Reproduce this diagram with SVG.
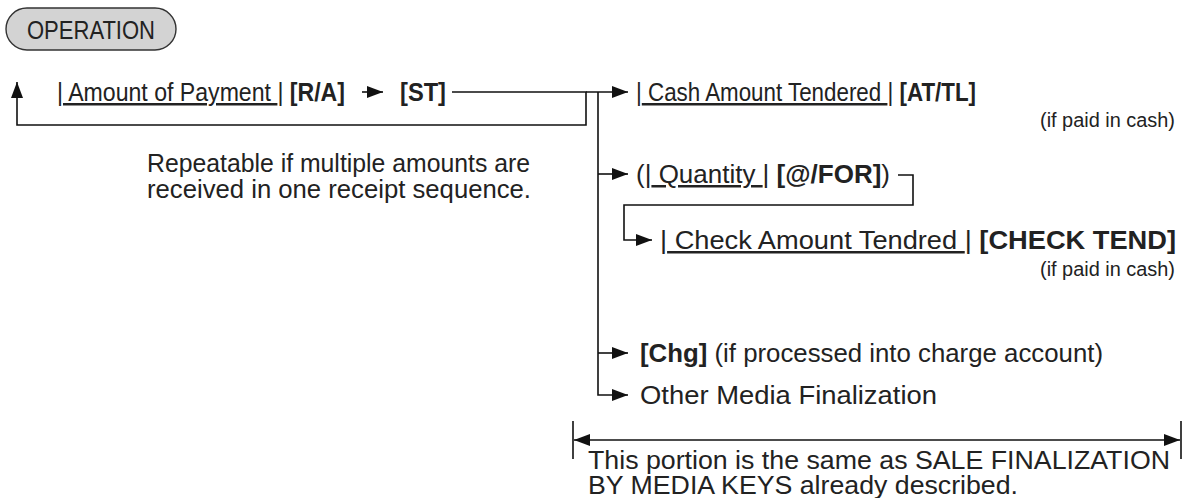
<svg xmlns="http://www.w3.org/2000/svg" width="1188" height="498" viewBox="0 0 1188 498" xml:space="preserve">
<style>
text{font-family:"Liberation Sans",Arial,sans-serif;font-size:25px;fill:#222}
.b{font-weight:bold}
.u{text-decoration:underline}
.s{font-size:20px}
.ln{fill:none;stroke:#111;stroke-width:1.6}
</style>
<defs>
<marker id="ah" markerWidth="16" markerHeight="12" refX="16" refY="6" orient="auto" markerUnits="userSpaceOnUse">
<path d="M0,0 L16,6 L0,12 Z" fill="#111"/>
</marker>
</defs>
<rect width="1188" height="498" fill="#fff"/>
<g id="operation">
<rect x="6" y="8" width="170" height="42" rx="21" fill="#d3d3d3" stroke="#333" stroke-width="1.4"/>
<text x="91" y="39" text-anchor="middle" textLength="128" lengthAdjust="spacingAndGlyphs">OPERATION</text>
</g>
<g id="amount"><text x="57" y="101" textLength="288" lengthAdjust="spacingAndGlyphs">|<tspan class="u"> Amount of Payment </tspan>| <tspan class="b">[R/A]</tspan></text></g>
<g id="st"><text x="400" y="101" class="b" textLength="46" lengthAdjust="spacingAndGlyphs">[ST]</text></g>
<g id="cash">
<text x="636" y="101" textLength="340" lengthAdjust="spacingAndGlyphs">|<tspan class="u"> Cash Amount Tendered </tspan>| <tspan class="b">[AT/TL]</tspan></text>
<text x="1175" y="127" class="s" text-anchor="end" textLength="135" lengthAdjust="spacingAndGlyphs">(if paid in cash)</text>
</g>
<g id="note">
<text x="147" y="172" textLength="383" lengthAdjust="spacingAndGlyphs">Repeatable if multiple amounts are</text>
<text x="147" y="198" textLength="384" lengthAdjust="spacingAndGlyphs">received in one receipt sequence.</text>
</g>
<g id="quantity"><text x="636" y="183" textLength="254" lengthAdjust="spacingAndGlyphs">(|<tspan class="u"> Quantity </tspan>| <tspan class="b">[@/FOR]</tspan>)</text></g>
<g id="check">
<text x="660" y="249" textLength="516" lengthAdjust="spacingAndGlyphs">|<tspan class="u"> Check Amount Tendred </tspan>| <tspan class="b">[CHECK TEND]</tspan></text>
<text x="1175" y="276" class="s" text-anchor="end" textLength="135" lengthAdjust="spacingAndGlyphs">(if paid in cash)</text>
</g>
<g id="chg"><text x="640" y="362" textLength="463" lengthAdjust="spacingAndGlyphs"><tspan class="b">[Chg]</tspan> (if processed into charge account)</text></g>
<g id="other"><text x="640" y="404" textLength="297" lengthAdjust="spacingAndGlyphs">Other Media Finalization</text></g>
<g id="portion">
<text x="588" y="469" textLength="582" lengthAdjust="spacingAndGlyphs">This portion is the same as SALE FINALIZATION</text>
<text x="588" y="494" textLength="430" lengthAdjust="spacingAndGlyphs">BY MEDIA KEYS already described.</text>
</g>
<g id="connectors">
<path class="ln" d="M362,92 H383" marker-end="url(#ah)"/>
<path class="ln" d="M452,92 H586 V125 H17 V82" marker-end="url(#ah)"/>
<path class="ln" d="M586,92 H628" marker-end="url(#ah)"/>
<path class="ln" d="M598,92 V395 H628" marker-end="url(#ah)"/>
<path class="ln" d="M598,174 H628" marker-end="url(#ah)"/>
<path class="ln" d="M598,353 H628" marker-end="url(#ah)"/>
<path class="ln" d="M898,175 H913 V205 H624 V240 H652" marker-end="url(#ah)"/>
<path class="ln" d="M573,421 V459 M1181,421 V459"/>
<path class="ln" d="M875,440 H574" marker-end="url(#ah)"/>
<path class="ln" d="M875,440 H1180" marker-end="url(#ah)"/>
</g>
</svg>
